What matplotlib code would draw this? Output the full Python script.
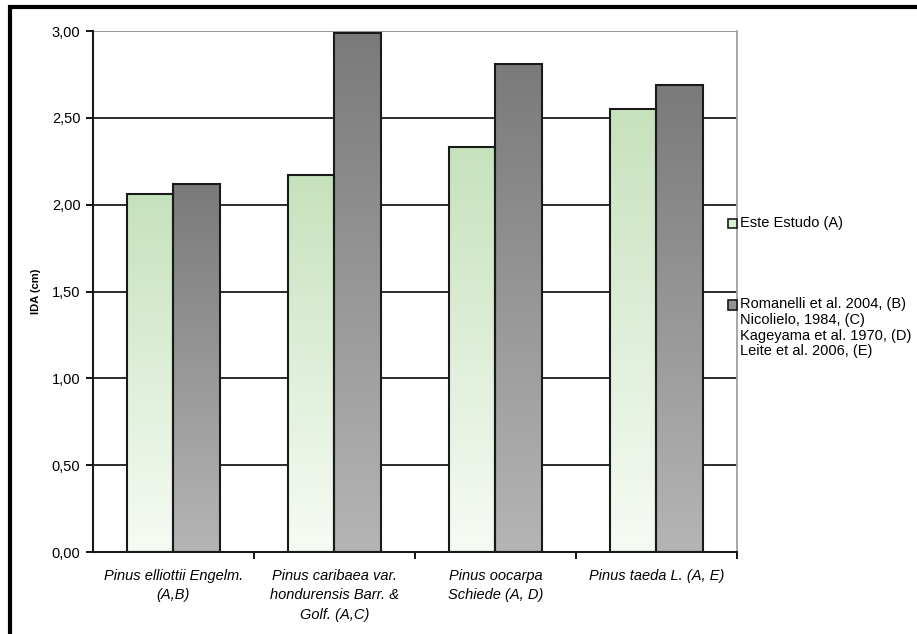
import numpy as np
import matplotlib.pyplot as plt
from matplotlib.patches import Rectangle
from matplotlib.colors import LinearSegmentedColormap

plt.rcParams["font.family"] = ["Liberation Sans", "DejaVu Sans"]

# data
species = [
    "Pinus elliottii Engelm.\n(A,B)",
    "Pinus caribaea var.\nhondurensis Barr. &\nGolf. (A,C)",
    "Pinus oocarpa\nSchiede (A, D)",
    "Pinus taeda L. (A, E)",
]
este_estudo = [2.06, 2.17, 2.33, 2.55]
literatura = [2.12, 2.99, 2.81, 2.69]
yticks = [0.0, 0.5, 1.0, 1.5, 2.0, 2.5, 3.0]
legend_labels = [
    "Este Estudo (A)",
    "Romanelli et al. 2004, (B)\nNicolielo, 1984, (C)\nKageyama et al. 1970, (D)\nLeite et al. 2006, (E)",
]

green_cmap = LinearSegmentedColormap.from_list("g", ["#f7fbf5", "#c6e2bc"])
gray_cmap = LinearSegmentedColormap.from_list("k", ["#b5b5b5", "#7a7a7a"])

fig = plt.figure(figsize=(9.17, 6.34), dpi=100)
ax = fig.add_axes([0.1014, 0.1293, 0.7023, 0.8217])

x = np.arange(len(species))
w = 0.286
grad = np.linspace(0, 1, 256).reshape(-1, 1)

# --- grid lines behind bars ---
for yv in yticks[1:-1]:
    ax.axhline(yv, color="#1a1a1a", lw=1.3, zorder=1)
ax.axhline(yticks[-1], color="#8c8c8c", lw=1.3, zorder=1)

# --- gradient bars ---
for xi, a, b in zip(x, este_estudo, literatura):
    for x0, h, cmap in [(xi - w, a, green_cmap), (xi, b, gray_cmap)]:
        ax.imshow(grad, extent=[x0, x0 + w, 0, h], origin="lower",
                  aspect="auto", cmap=cmap, zorder=2)
        ax.add_patch(Rectangle((x0, 0), w, h, fill=False,
                               edgecolor="#1a1a1a", lw=1.5, zorder=3))

ax.set_xlim(-0.5, 3.5)
ax.set_ylim(0, 3.0)

ax.set_yticks(yticks)
ax.set_yticklabels([f"{v:.2f}".replace(".", ",") for v in yticks], fontsize=10.5)
ax.tick_params(axis="y", direction="out", length=5, width=1.3, pad=4)

ax.set_xticks(x)
ax.set_xticklabels(species, fontsize=10.5, style="italic", linespacing=1.5)
ax.set_xticks(x + 0.5, minor=True)
ax.tick_params(axis="x", which="major", length=0, pad=12)
ax.tick_params(axis="x", which="minor", direction="out", length=5, width=1.3)

ax.set_ylabel("IDA (cm)", fontsize=8, fontweight="bold", labelpad=8)

for s in ["left", "bottom"]:
    ax.spines[s].set_linewidth(1.5)
    ax.spines[s].set_color("#1a1a1a")
ax.spines["right"].set_color("#a0a0a0")
ax.spines["right"].set_linewidth(1.3)
ax.spines["top"].set_visible(False)

# --- legend drawn by hand ---
box = 0.0105
for lab, cmap, yy in [(legend_labels[0], green_cmap, 0.647),
                      (legend_labels[1], gray_cmap, 0.519)]:
    fig.patches.append(Rectangle((0.7935, yy - box * 0.7), box, box * 1.45,
                                 transform=fig.transFigure, facecolor=cmap(0.6),
                                 edgecolor="#1a1a1a", lw=1.2))
    fig.text(0.807, yy + 0.012, lab, fontsize=10.5, va="top", ha="left",
             linespacing=1.15)

# outer frame
fig.patches.append(Rectangle((0.011, -0.1), 1.2, 1.089, transform=fig.transFigure,
                             fill=False, edgecolor="black", lw=3))

fig.savefig("out.png", dpi=100)
